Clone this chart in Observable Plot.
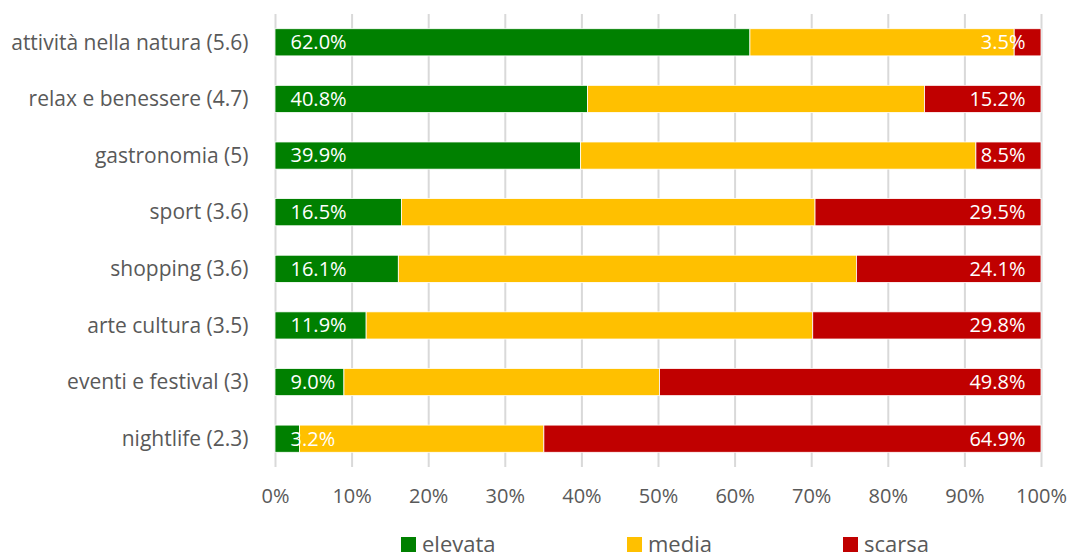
<!DOCTYPE html>
<html>
<head>
<meta charset="utf-8">
<script src="https://cdn.jsdelivr.net/npm/d3@7"></script>
<script src="https://cdn.jsdelivr.net/npm/@observablehq/plot@0.6"></script>
<style>
  body { margin: 0; background: #fff; overflow: hidden; font-family: "Open Sans", sans-serif; }
  #legend { position: relative; width: 1070px; height: 34px; }
  .item { position: absolute; top: 6px; display: flex; align-items: center; font-size: 22px; color: #595959; line-height: 24px; height: 24px; }
  .sw { width: 15px; height: 15px; margin-right: 6px; margin-top: 3px; }
</style>
</head>
<body>
<div id="chart"></div>
<div id="legend"></div>
<script>
const categories = [
  "attività nella natura (5.6)",
  "relax e benessere (4.7)",
  "gastronomia (5)",
  "sport (3.6)",
  "shopping (3.6)",
  "arte cultura (3.5)",
  "eventi e festival (3)",
  "nightlife (2.3)"
];
const elevata = [62.0, 40.8, 39.9, 16.5, 16.1, 11.9, 9.0, 3.2];
const media   = [34.5, 44.0, 51.6, 54.0, 59.8, 58.3, 41.2, 31.9];
const scarsa  = [3.5, 15.2, 8.5, 29.5, 24.1, 29.8, 49.8, 64.9];
const seriesNames = ["elevata", "media", "scarsa"];
const seriesColors = ["#008000", "#FFC000", "#C00000"];
const xTicks = [0, 0.1, 0.2, 0.3, 0.4, 0.5, 0.6, 0.7, 0.8, 0.9, 1];

const values = {elevata, media, scarsa};
const data = categories.flatMap((c, i) =>
  seriesNames.map(s => ({cat: c, s, v: values[s][i] / 100}))
);
const fmtPct = d3.format(".0%");

const chart = Plot.plot({
  width: 1070,
  height: 525,
  marginLeft: 275,
  marginRight: 29,
  marginTop: 14,
  marginBottom: 58,
  style: {fontFamily: "Open Sans", fontSize: "20px", color: "#595959", background: "#fff"},
  x: {domain: [0, 1], label: null},
  y: {domain: categories, paddingInner: 0.52, paddingOuter: 0.26, round: false, label: null},
  color: {domain: seriesNames, range: seriesColors},
  marks: [
    Plot.gridX(xTicks, {stroke: "#d9d9d9", strokeWidth: 2, strokeOpacity: 1}),
    Plot.barX(data, {x: "v", y: "cat", fill: "s", stroke: "white", strokeWidth: 0.8}),
    Plot.text(categories, {x: 0, y: d => d, text: (d, i) => elevata[i].toFixed(1) + "%", textAnchor: "start", dx: 15, fill: "white", fontSize: 20}),
    Plot.text(categories, {x: 1, y: d => d, text: (d, i) => scarsa[i].toFixed(1) + "%", textAnchor: "end", dx: -16, fill: "white", fontSize: 20}),
    Plot.axisX({ticks: xTicks, tickFormat: fmtPct, tickSize: 0, tickPadding: 21, fontSize: 20, fill: "#595959", label: null}),
    Plot.axisY({tickSize: 0, tickPadding: 27, fontSize: 21, fill: "#595959", label: null})
  ]
});
document.getElementById("chart").appendChild(chart);

const legendLefts = [401, 627, 843];
const legend = document.getElementById("legend");
seriesNames.forEach((s, i) => {
  const it = document.createElement("div");
  it.className = "item";
  it.style.left = legendLefts[i] + "px";
  const sw = document.createElement("span");
  sw.className = "sw";
  sw.style.background = seriesColors[i];
  const t = document.createElement("span");
  t.textContent = s;
  it.appendChild(sw);
  it.appendChild(t);
  legend.appendChild(it);
});
</script>
</body>
</html>
